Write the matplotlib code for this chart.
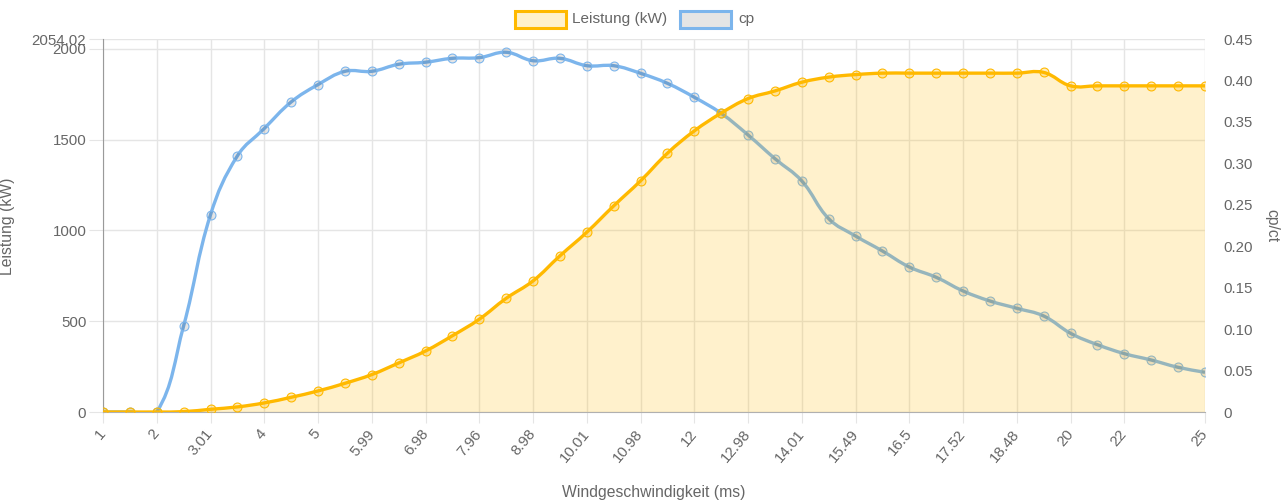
import numpy as np
import matplotlib
matplotlib.use("Agg")
import matplotlib.pyplot as plt
from matplotlib.path import Path
from matplotlib.patches import PathPatch, Rectangle

plt.rcParams['font.family'] = ['Liberation Sans', 'DejaVu Sans']

# wind speed categories (m/s)
wind = ["1", "1.5", "2", "2.5", "3.01", "3.5", "4", "4.5", "5", "5.5",
        "5.99", "6.5", "6.98", "7.5", "7.96", "8.5", "8.98", "9.5", "10.01", "10.5",
        "10.98", "11.5", "12", "12.5", "12.98", "13.5", "14.01", "14.5", "15.49", "16",
        "16.5", "17", "17.52", "18", "18.48", "19", "20", "21", "22", "23",
        "24", "25"]

# power (kW)
power = [0, 0, 0, 2, 15, 28, 50, 81, 116, 158,
         206, 270, 336, 420, 511, 626, 722, 860, 990, 1135,
         1273, 1425, 1548, 1646, 1726, 1768, 1816, 1844, 1858, 1866,
         1866, 1866, 1866, 1866, 1866, 1870, 1796, 1796, 1796, 1796,
         1796, 1796]

# power coefficient
cp = [0.0, 0.0, 0.0, 0.104, 0.238, 0.309, 0.342, 0.374, 0.395, 0.411,
      0.411, 0.4195, 0.422, 0.4267, 0.4275, 0.434, 0.4238, 0.4267, 0.4178, 0.4178,
      0.4086, 0.3965, 0.3797, 0.3603, 0.3342, 0.3056, 0.2787, 0.2332, 0.2123, 0.1942,
      0.1749, 0.1625, 0.146, 0.1339, 0.1251, 0.1158, 0.0949, 0.0812, 0.0704, 0.0627,
      0.0539, 0.0479]

power_max = 2054.02
power_ticks = [0, 500, 1000, 1500, 2000, power_max]
power_ticklabels = ["0", "500", "1000", "1500", "2000", "2054.02"]
cp_ticks = [0, 0.05, 0.10, 0.15, 0.20, 0.25, 0.30, 0.35, 0.40, 0.45]
cp_ticklabels = ["0", "0.05", "0.10", "0.15", "0.20", "0.25", "0.30", "0.35", "0.40", "0.45"]

orange = "#FFB900"
blue = "#7CB5EC"
txt = "#666666"
grid_c = "#e5e5e5"
fs = 10.8
fs_title = 11.3

W, H = 1282, 500
fig = plt.figure(figsize=(W / 100, H / 100), dpi=100)
L, R, B, T = 103, 1205, 412, 39
ax = fig.add_axes([L / W, (H - B) / H, (R - L) / W, (B - T) / H])
ax2 = ax.twinx()

x = np.arange(len(wind))
ax.set_xlim(0, len(wind) - 1)
ax.set_ylim(0, power_max)
ax2.set_ylim(0, 0.45)
ax.set_autoscale_on(False)
ax2.set_autoscale_on(False)


def spline(xs, ys, trans, t=0.4):
    # chart.js style bezier, control points computed in pixel space
    p = trans.transform(np.column_stack([xs, ys]))
    n = len(p)
    cprev = np.zeros_like(p)
    cnext = np.zeros_like(p)
    for i in range(n):
        a = p[i - 1] if i > 0 else p[i]
        c = p[i + 1] if i < n - 1 else p[i]
        d01 = np.hypot(*(p[i] - a))
        d12 = np.hypot(*(c - p[i]))
        s = d01 + d12
        s01 = d01 / s if s > 0 else 0
        s12 = d12 / s if s > 0 else 0
        cprev[i] = p[i] - t * s01 * (c - a)
        cnext[i] = p[i] + t * s12 * (c - a)
    verts = [p[0]]
    codes = [Path.MOVETO]
    for i in range(n - 1):
        verts += [cnext[i], cprev[i + 1], p[i + 1]]
        codes += [Path.CURVE4] * 3
    verts = trans.inverted().transform(np.array(verts))
    return verts, codes


# grid
ticks_x = list(range(0, len(wind) - 2, 2)) + [len(wind) - 1]
ax.set_xticks(ticks_x)
ax.set_xticklabels([wind[i] for i in ticks_x], rotation=50, ha='right',
                   va='center', rotation_mode='anchor')
ax.set_yticks(power_ticks)
ax.set_yticklabels(power_ticklabels)
ax.grid(True, color=grid_c, linewidth=1, zorder=0)
ax.set_axisbelow(True)
ax.tick_params(axis='x', length=8, color=grid_c, pad=6, labelsize=fs, labelcolor=txt)
ax.tick_params(axis='y', length=10, color=grid_c, pad=2, labelsize=fs, labelcolor=txt)
ax2.set_yticks(cp_ticks)
ax2.set_yticklabels(cp_ticklabels)
ax2.tick_params(axis='y', length=0, pad=13, labelsize=fs, labelcolor=txt)

for a in (ax, ax2):
    for s in a.spines.values():
        s.set_visible(False)
ax.spines['left'].set_visible(True)
ax.spines['left'].set_color("#9a9a9a")
ax.spines['bottom'].set_visible(True)
ax.spines['bottom'].set_color("#b0b0b0")

# cp line (under the power fill)
v, c = spline(x, cp, ax2.transData)
ax.add_patch(PathPatch(Path(v, c), transform=ax2.transData, facecolor='none',
                       edgecolor=blue, linewidth=2.4, zorder=2))
ax.plot(x, cp, 'o', transform=ax2.transData, markersize=6.4,
        markerfacecolor=(0, 0, 0, 0.1), markeredgecolor=blue,
        markeredgewidth=0.8, zorder=2.5)

# power fill + line
v, c = spline(x, power, ax.transData)
fv = np.vstack([v, [[x[-1], 0], [x[0], 0], [x[0], 0]]])
fc = c + [Path.LINETO, Path.LINETO, Path.CLOSEPOLY]
ax.add_patch(PathPatch(Path(fv, fc), facecolor=(1, 0.725, 0, 0.2),
                       edgecolor='none', zorder=3))
ax.add_patch(PathPatch(Path(v, c), facecolor='none', edgecolor=orange,
                       linewidth=2.4, zorder=4))
ax.plot(x, power, 'o', markersize=6.4, markerfacecolor=(1, 0.725, 0, 0.25),
        markeredgecolor=orange, markeredgewidth=0.8, zorder=5)

ax.set_xlim(0, len(wind) - 1)
ax.set_ylim(0, power_max)
ax2.set_ylim(0, 0.45)

# axis titles
fig.text(654 / W, 1 - 492 / H, "Windgeschwindigkeit (ms)", ha='center', va='center',
         fontsize=fs_title, color=txt)
fig.text(8 / W, 1 - 226 / H, "Leistung (kW)", ha='center', va='center',
         rotation=90, fontsize=fs_title, color=txt)
fig.text(1272 / W, 1 - 226 / H, "cp/ct", ha='center', va='center',
         rotation=-90, fontsize=fs_title, color=txt)

# legend
def legend_item(x0, label, face, edge):
    fig.patches.append(Rectangle((x0 / W, 1 - 27.5 / H), 51 / W, 16.5 / H,
                                 transform=fig.transFigure, facecolor=face,
                                 edgecolor=edge, linewidth=2.2))
    fig.text((x0 + 58) / W, 1 - 19 / H, label, ha='left', va='center',
             fontsize=11.1, color=txt)

legend_item(514.5, "Leistung (kW)", (1, 0.725, 0, 0.2), orange)
legend_item(680, "cp", (0, 0, 0, 0.1), blue)

fig.savefig("out.png", dpi=100)
